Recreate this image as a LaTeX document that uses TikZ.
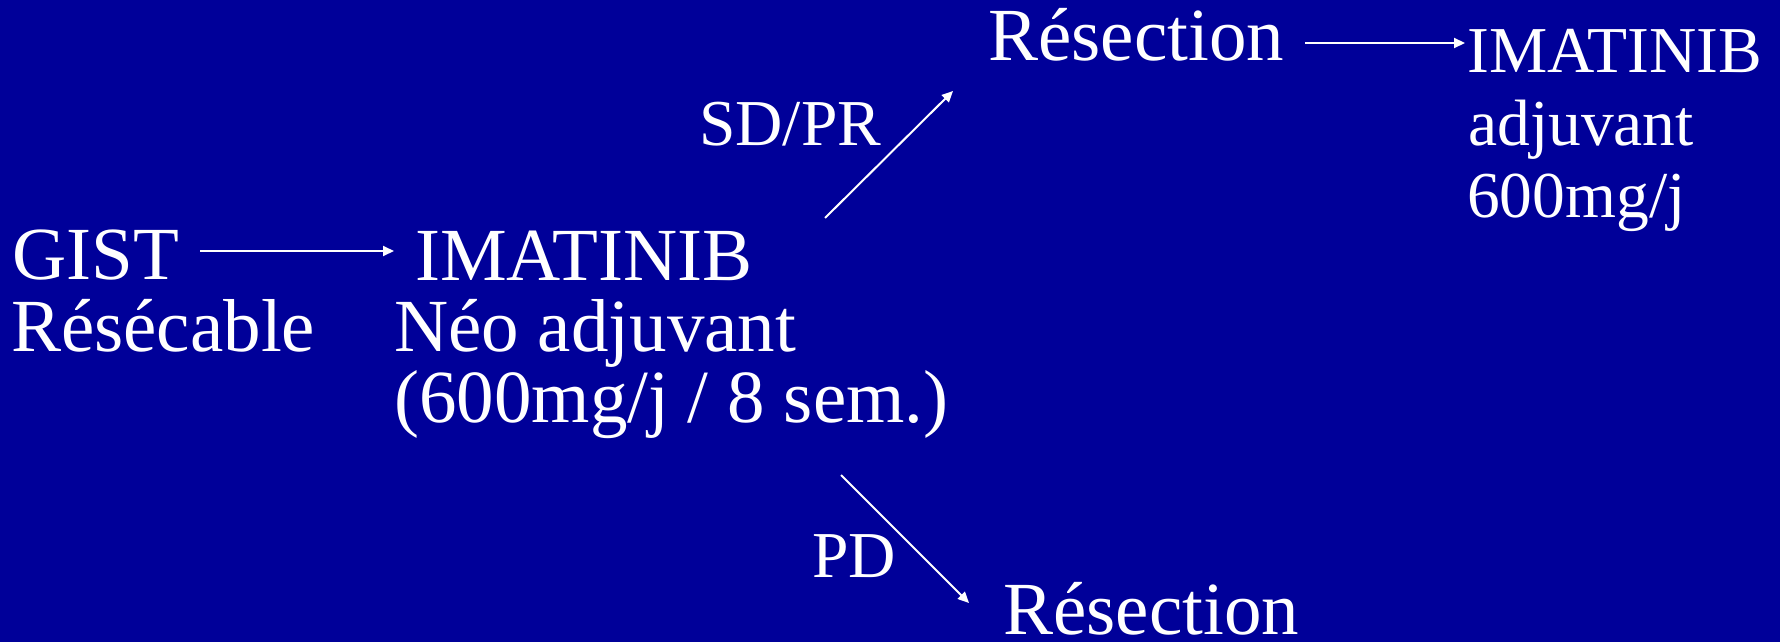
\documentclass[tikz,border=0pt]{standalone}
\usepackage{fontspec}
\setmainfont{Liberation Serif}
\usetikzlibrary{arrows.meta}
\definecolor{bg}{RGB}{0,0,153}
\begin{document}
\begin{tikzpicture}[x=1pt,y=-1pt,
  big/.style={text=white,inner sep=0pt,anchor=base west,font=\fontsize{75}{86}\selectfont},
  small/.style={text=white,inner sep=0pt,anchor=base west,font=\fontsize{65.5}{76}\selectfont},
  arr/.style={draw=white,line width=2pt,-{Triangle[length=11pt,width=10pt]}}]
\fill[bg] (0,0) rectangle (1780,642);
\useasboundingbox (0,0) rectangle (1780,642);
% left
\node[big] (gist) at (12,279) {GIST};
\node[big] (resec) at (11,351) {Résécable};
% middle
\node[big] (ima) at (415,280) {IMATINIB};
\node[big] (neo) at (394,351) {Néo adjuvant};
\node[big] (dose) at (394,422) {(600mg/j / 8 sem.)};
% labels
\node[small] (sdpr) at (699,145) {SD/PR};
\node[small] (pd) at (812,577) {PD};
% right
\node[big] (restop) at (988,61) {Résection};
\node[big] (resbot) at (1003,634) {Résection};
\node[small] (imaR) at (1467,73) {IMATINIB};
\node[small] (adj) at (1468,145) {adjuvant};
\node[small] (doseR) at (1467,217) {600mg/j};
% connectors
\coordinate (a1s) at (200,251);
\coordinate (a1e) at (394,251);
\coordinate (a2s) at (825,218);
\coordinate (a2e) at (953,91);
\coordinate (a3s) at (841,475);
\coordinate (a3e) at (969,603);
\coordinate (a4s) at (1305,43);
\coordinate (a4e) at (1465,43);
\draw[arr] (a1s) -- (a1e);
\draw[arr] (a2s) -- (a2e);
\draw[arr] (a3s) -- (a3e);
\draw[arr] (a4s) -- (a4e);
\end{tikzpicture}
\end{document}
